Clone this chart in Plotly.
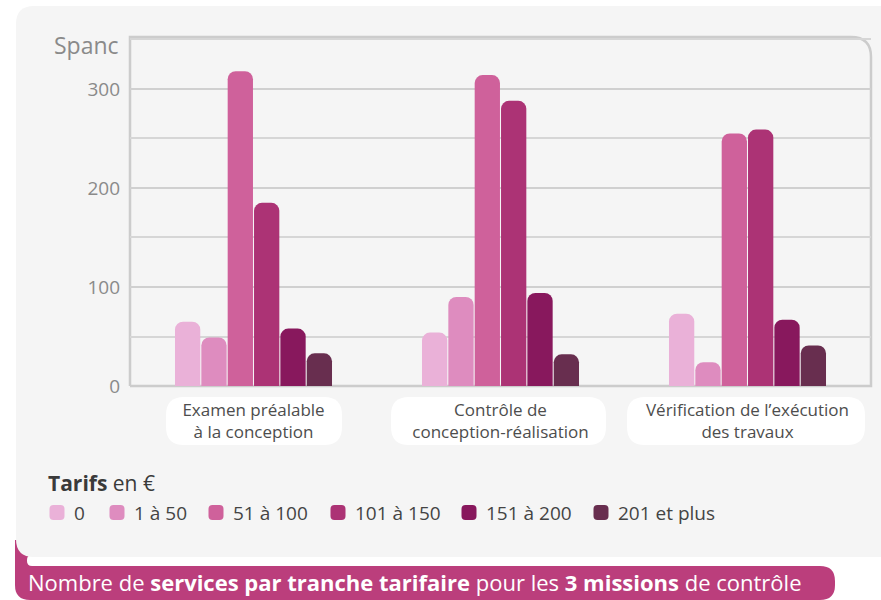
import plotly.graph_objects as go

# données
missions = ["Examen préalable<br>à la conception",
            "Contrôle de<br>conception-réalisation",
            "Vérification de l’exécution<br>des travaux"]
tranches = ["0", "1 à 50", "51 à 100", "101 à 150", "151 à 200", "201 et plus"]
val_0 = [65, 54, 73]
val_1_50 = [49, 90, 24]
val_51_100 = [318, 314, 255]
val_101_150 = [185, 288, 259]
val_151_200 = [58, 94, 67]
val_201_plus = [33, 32, 41]
couleurs = ["#EAB1D8", "#DE8CBF", "#CF619B", "#AC3375", "#88185D", "#682E4F"]

series = [val_0, val_1_50, val_51_100, val_101_150, val_151_200, val_201_plus]

W, H = 881, 600
FONT = "Open Sans"
ROSE = "#BB3E7C"


def X(px):
    return px / W


def Y(py):
    return 1 - py / H


def rrect(x0, y0, x1, y1, r, tl=True, tr=True, br=True, bl=True):
    # rectangle arrondi en pixels -> chemin en coordonnées paper
    p = []
    p.append("M %f,%f" % (X(x0 + (r if tl else 0)), Y(y0)))
    p.append("L %f,%f" % (X(x1 - (r if tr else 0)), Y(y0)))
    if tr:
        p.append("Q %f,%f %f,%f" % (X(x1), Y(y0), X(x1), Y(y0 + r)))
    p.append("L %f,%f" % (X(x1), Y(y1 - (r if br else 0))))
    if br:
        p.append("Q %f,%f %f,%f" % (X(x1), Y(y1), X(x1 - r), Y(y1)))
    p.append("L %f,%f" % (X(x0 + (r if bl else 0)), Y(y1)))
    if bl:
        p.append("Q %f,%f %f,%f" % (X(x0), Y(y1), X(x0), Y(y1 - r)))
    p.append("L %f,%f" % (X(x0), Y(y0 + (r if tl else 0))))
    if tl:
        p.append("Q %f,%f %f,%f" % (X(x0), Y(y0), X(x0 + r), Y(y0)))
    p.append("Z")
    return " ".join(p)


def fond(path, color):
    return dict(type="path", xref="paper", yref="paper", layer="below",
                path=path, fillcolor=color, line_width=0)


fig = go.Figure()
for name, vals, col in zip(tranches, series, couleurs):
    fig.add_trace(go.Bar(x=missions, y=vals, name=name, marker_color=col,
                         marker_line_width=0, showlegend=False))

shapes = []
# bandeau du titre, avec le coin qui remonte derrière la carte
shapes.append(fond(rrect(15, 566, 835, 600, 15, tl=False), ROSE))
shapes.append(fond(rrect(15, 540, 45, 580, 0, False, False, False, False), ROSE))
shapes.append(fond(rrect(27, 555, 900, 566, 5, tr=False, br=False), "white"))
# carte grise
shapes.append(fond(rrect(16, 6, 920, 557, 18, tr=False, br=False), "#F5F5F5"))
# cases blanches des catégories
for x0, x1 in [(166, 342), (391, 606), (627, 865)]:
    shapes.append(fond(rrect(x0, 397, x1, 445, 18), "white"))
# cadre du graphique
cadre = "M %f,%f L %f,%f L %f,%f Q %f,%f %f,%f L %f,%f L %f,%f" % (
    X(130), Y(386), X(130), Y(37), X(851), Y(37), X(871), Y(37), X(871), Y(57),
    X(871), Y(386), X(130), Y(386))
shapes.append(dict(type="path", xref="paper", yref="paper", layer="below",
                   path=cadre, line=dict(color="#CCCCCC", width=2.5)))

# légende faite à la main
leg_x = [57, 117, 216, 338, 469, 601]
annotations = []
for name, col, cx in zip(tranches, couleurs, leg_x):
    shapes.append(dict(type="path", xref="paper", yref="paper",
                       path=rrect(cx - 7.5, 505, cx + 7.5, 520, 4),
                       fillcolor=col, line_width=0))
    annotations.append(dict(x=X(cx + 15), y=Y(513), xref="paper", yref="paper",
                            text=name, showarrow=False, xanchor="left", yanchor="middle",
                            font=dict(family=FONT, size=19, color="#444444")))

annotations.append(dict(x=X(46), y=Y(483), xref="paper", yref="paper",
                        text="<b>Tarifs</b> en €", showarrow=False,
                        xanchor="left", yanchor="middle",
                        font=dict(family=FONT, size=21, color="#3A3A3A")))
annotations.append(dict(x=X(121), y=Y(45), xref="paper", yref="paper",
                        text="Spanc", showarrow=False, xanchor="right", yanchor="middle",
                        font=dict(family=FONT, size=23, color="#8A8A8A")))
annotations.append(dict(x=X(26), y=Y(582), xref="paper", yref="paper",
                        text="Nombre de <b>services par tranche tarifaire</b> pour les "
                             "<b>3 missions</b> de contrôle",
                        showarrow=False, xanchor="left", yanchor="middle",
                        font=dict(family=FONT, size=22, color="white")))

fig.update_layout(
    width=W, height=H,
    margin=dict(l=0, r=0, t=0, b=0, autoexpand=False),
    paper_bgcolor="white", plot_bgcolor="rgba(0,0,0,0)",
    barmode="group", bargap=0.36, bargroupgap=0.04, barcornerradius=8,
    font=dict(family=FONT),
    shapes=shapes, annotations=annotations,
    xaxis=dict(domain=[X(130), X(871)], showgrid=False, showline=False,
               zeroline=False, ticks="", ticklabelstandoff=12, automargin=False,
               tickfont=dict(family=FONT, size=17, color="#4D4D4D")),
    yaxis=dict(domain=[Y(386), Y(37)], range=[0, 352.5], automargin=False,
               tickvals=[0, 100, 200, 300], showline=False, zeroline=False,
               gridcolor="#D0D0D0", gridwidth=2, ticks="", ticklabelstandoff=9,
               tickfont=dict(family=FONT, size=19, color="#8A8A8A"),
               minor=dict(dtick=50, showgrid=True, gridcolor="#D6D6D6", gridwidth=1.5)),
)

# pas de marge autour de la figure dans la page
fig.write_html("out.html", config=dict(displayModeBar=False),
               post_script="document.body.style.margin='0';")
